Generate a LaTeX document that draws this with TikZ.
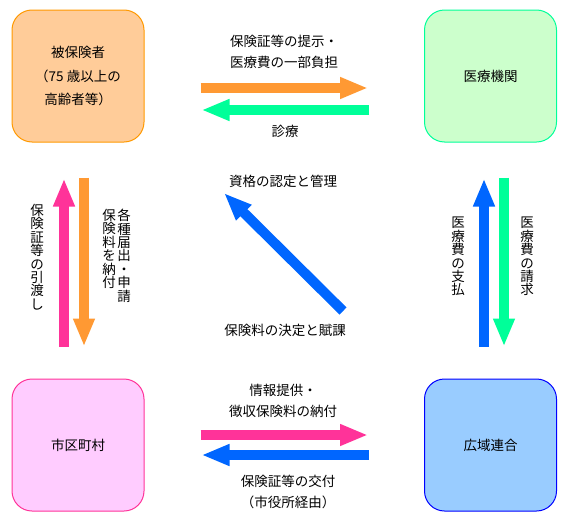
\documentclass[tikz,border=0pt]{standalone}
\usepackage{fontspec}
\newfontfamily\jpfont{Noto Sans CJK JP}
\usetikzlibrary{arrows.meta, positioning}
\definecolor{peach}{HTML}{FFCC99}
\definecolor{peachline}{HTML}{FF9900}
\definecolor{mint}{HTML}{CCFFCC}
\definecolor{mintline}{HTML}{00FF99}
\definecolor{rose}{HTML}{FFCCFF}
\definecolor{roseline}{HTML}{FF3399}
\definecolor{sky}{HTML}{99CCFF}
\definecolor{skyline}{HTML}{0000FF}
\definecolor{orangeflow}{HTML}{FF9933}
\definecolor{greenflow}{HTML}{00FF99}
\definecolor{pinkflow}{HTML}{FF3399}
\definecolor{blueflow}{HTML}{0066FF}

\begin{document}
\begin{tikzpicture}[x=1pt, y=1pt,
    party/.style = {rectangle, rounded corners=20pt, line width=1pt, minimum width=132pt, minimum height=132pt, align=center, font=\jpfont\fontsize{13.5}{23.5}\selectfont},
    note/.style = {align=center, inner sep=0pt, font=\jpfont\fontsize{13.5}{21.5}\selectfont},
    tate/.style = {align=center, inner sep=0pt, anchor=north, font=\jpfont\fontsize{13.5}{13.4}\selectfont},
    flow/.style = {line width=10pt, -{Triangle[width=20pt, length=28pt]}}
]
\useasboundingbox (0,0) rectangle (572,-522);

% Corners: insured (top left), clinic (top right), city (bottom left), union (bottom right)
\node (insured) [party, draw=peachline, fill=peach] at (78,-76) {被保険者\\（75 歳以上の\\高齢者等）};
\node (clinic) [party, draw=mintline, fill=mint] at (490.5,-76) {医療機関};
\node (city) [party, draw=roseline, fill=rose] at (78,-445) {市区町村};
\node (union) [party, draw=skyline, fill=sky] at (490.5,-445) {広域連合};

% Top: insured <-> clinic
\draw [flow, orangeflow, shorten <=56pt, shorten >=56pt] ([yshift=-12pt]insured.east) -- ([yshift=-12pt]clinic.west);
\draw [flow, greenflow, shorten <=55pt, shorten >=57pt] ([yshift=-34pt]clinic.west) -- ([yshift=-34pt]insured.east);
\node (present) [note] at (284,-52) {保険証等の提示・\\医療費の一部負担};
\node (care) [note] at (285,-131) {診療};

% Bottom: city <-> union
\draw [flow, pinkflow, shorten <=56pt, shorten >=56pt] ([yshift=10pt]city.east) -- ([yshift=10pt]union.west);
\draw [flow, blueflow, shorten <=55pt, shorten >=57pt] ([yshift=-10pt]union.west) -- ([yshift=-10pt]city.east);
\node (collect) [note] at (283,-401) {情報提供・\\徴収保険料の納付};
\node (issue) [note] at (288,-492) {保険証等の交付\\（市役所経由）};

% Left: city <-> insured
\draw [flow, pinkflow, shorten <=32pt, shorten >=36pt] ([xshift=-14pt]city.north) -- ([xshift=-14pt]insured.south);
\draw [flow, orangeflow, shorten <=35pt, shorten >=32pt] ([xshift=6pt]insured.south) -- ([xshift=6pt]city.north);
\node (handover) [tate] at (37,-204) {保\\険\\証\\等\\の\\引\\渡\\し};
\node (notify) [tate] at (124,-209) {各\\種\\届\\出\\・\\申\\請};
\node (premium) [tate] at (109,-209) {保\\険\\料\\を\\納\\付};

% Right: union <-> clinic
\draw [flow, blueflow, shorten <=32pt, shorten >=36pt] ([xshift=-6.5pt]union.north) -- ([xshift=-6.5pt]clinic.south);
\draw [flow, greenflow, shorten <=35pt, shorten >=32pt] ([xshift=13.5pt]clinic.south) -- ([xshift=13.5pt]union.north);
\node (payment) [tate] at (458,-217) {医\\療\\費\\の\\支\\払};
\node (claim) [tate] at (527,-217) {医\\療\\費\\の\\請\\求};

% Diagonal: union -> insured (qualification)
\coordinate (assess) at (343,-311);
\coordinate (qualify) at (224,-193);
\draw [flow, blueflow] (assess) -- (qualify);
\node (certify) [note] at (283,-181) {資格の認定と管理};
\node (levy) [note] at (285,-330) {保険料の決定と賦課};

\end{tikzpicture}
\end{document}
